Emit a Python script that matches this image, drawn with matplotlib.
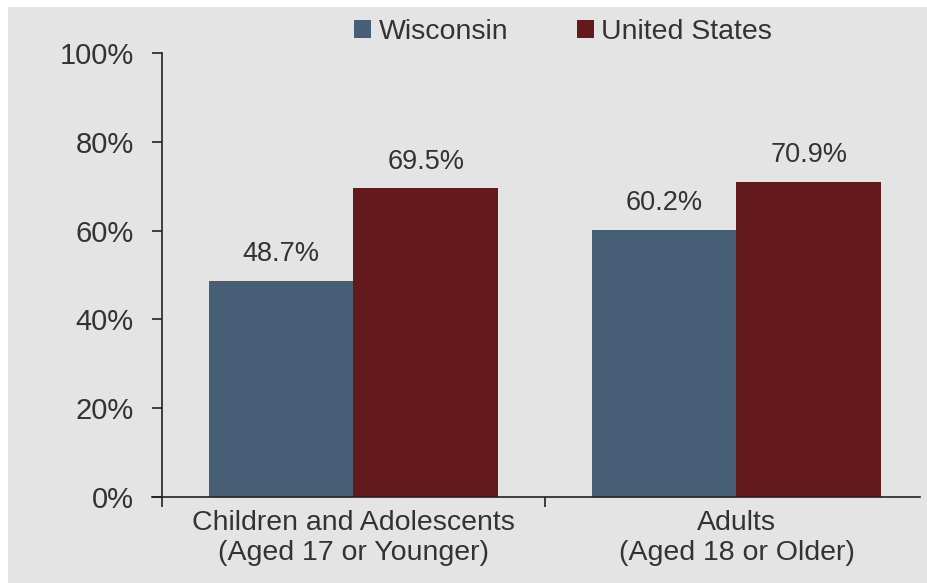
import numpy as np
import matplotlib.pyplot as plt
from matplotlib.patches import Rectangle

# Data
categories = ["Children and Adolescents\n(Aged 17 or Younger)", "Adults\n(Aged 18 or Older)"]
series_names = ["Wisconsin", "United States"]
wisconsin = [48.7, 60.2]
united_states = [69.5, 70.9]
y_ticks = [0, 20, 40, 60, 80, 100]

plt.rcParams['font.family'] = ['Liberation Sans', 'DejaVu Sans']
text_col = "#333333"
bg = "#e4e4e4"
colors = ["#475e77", "#641a1d"]

fig = plt.figure(figsize=(9.28, 5.83), dpi=100)
fig.patch.set_facecolor("white")
# gray panel with thin white margin top/left
fig.patches.append(Rectangle((8 / 928, -0.01), 1.02, 1.01 - 7 / 583, transform=fig.transFigure,
                             facecolor=bg, edgecolor="none", zorder=-10))

ax = fig.add_axes([162 / 928, 1 - 497 / 583, 1 - 162 / 928, (497 - 53) / 583])
ax.set_facecolor("none")

x = np.arange(len(categories))
w = 0.377
b1 = ax.bar(x - w / 2, wisconsin, w, color=colors[0], label=series_names[0], zorder=2)
b2 = ax.bar(x + w / 2, united_states, w, color=colors[1], label=series_names[1], zorder=2)

for bars, vals in [(b1, wisconsin), (b2, united_states)]:
    for rect, v in zip(bars, vals):
        ax.annotate(f"{v:.1f}%", (rect.get_x() + rect.get_width() / 2, v),
                    xytext=(0, 10), textcoords="offset points",
                    ha="center", va="bottom", fontsize=19.5, color=text_col)

ax.set_ylim(0, 100)
ax.set_xlim(-0.5, 1.48)
ax.set_yticks(y_ticks)
ax.set_yticklabels([f"{t}%" for t in y_ticks])
ax.tick_params(axis="y", direction="out", length=7.5, width=1.2, color="#222222",
               pad=13, labelsize=21, labelcolor=text_col)

# major ticks at category boundaries, labels at centers
ax.set_xticks([-0.5, 0.5, 1.5])
ax.set_xticklabels(["", "", ""])
ax.tick_params(axis="x", which="major", direction="out", length=7, width=1.2, color="#222222")
ax.set_xticks(x, minor=True)
ax.set_xticklabels(categories, minor=True, fontsize=20.5, color=text_col, linespacing=1.2)
ax.tick_params(axis="x", which="minor", length=0, pad=9)

for s in ["top", "right"]:
    ax.spines[s].set_visible(False)
for s in ["left", "bottom"]:
    ax.spines[s].set_linewidth(1.2)
    ax.spines[s].set_color("#222222")
ax.spines["bottom"].set_bounds(-0.5 - 10 / 385, 1.48)

leg = fig.legend(handles=[b1, b2], labels=series_names, loc="center",
                 bbox_to_anchor=(563 / 928, 1 - 32 / 583), ncol=2, frameon=False,
                 fontsize=20.5, labelcolor=text_col, handlelength=0.6, handleheight=0.6,
                 handletextpad=0.25, columnspacing=2.4)

fig.savefig("out.png", dpi=100)
